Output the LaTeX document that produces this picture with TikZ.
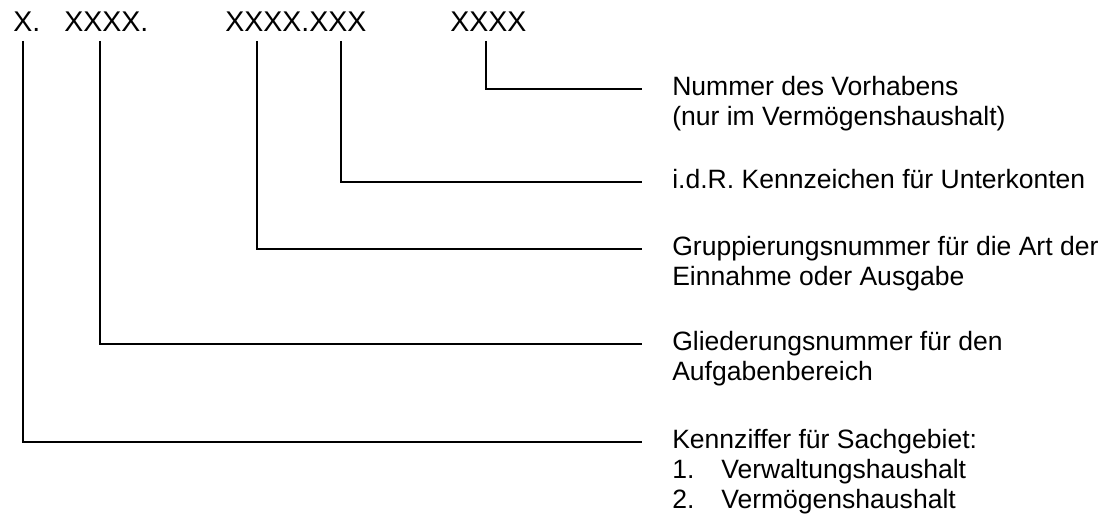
\documentclass[tikz,border=0pt]{standalone}
\usepackage{fontspec}
\setmainfont{Liberation Sans}
\usepackage{tikz}

\tikzset{
    code/.style={anchor=base west,inner sep=0pt,font=\fontsize{21.4}{24}\selectfont},
    lbl/.style={anchor=base west,inner sep=0pt,align=left,font=\fontsize{19.9}{22.5}\selectfont},
    link/.style={draw=black,line width=1.2pt}
}
\newcommand{\punkt}[1]{\makebox[36.75pt][l]{#1}}

\begin{document}
\begin{tikzpicture}[x=0.75pt,y=0.75pt]
    \useasboundingbox (0,0) rectangle (1105,517);
    % Schluessel oben
    \node[code] (sg) at (13,485) {X.};
    \node[code] (gl) at (64,485) {XXXX.};
    \node[code] (gr) at (225,485) {XXXX.XXX};
    \node[code] (vh) at (450,485) {XXXX};
    % Erlaeuterungen rechts (base = letzte Zeile)
    \node[lbl] (vhtxt) at (672,391) {Nummer des Vorhabens\\(nur im Verm\"ogenshaushalt)};
    \node[lbl] (uktxt) at (672,328) {i.d.R. Kennzeichen f\"ur Unterkonten};
    \node[lbl] (grtxt) at (672,231) {Gruppierungsnummer f\"ur die Art der\\Einnahme oder Ausgabe};
    \node[lbl] (gltxt) at (672,136) {Gliederungsnummer f\"ur den\\Aufgabenbereich};
    \node[lbl] (sgtxt) at (672,8) {Kennziffer f\"ur Sachgebiet:\\
        \punkt{1.}Verwaltungshaushalt\\\punkt{2.}Verm\"ogenshaushalt};
    % Ansatzpunkte unter den Stellen
    \coordinate (p1) at (23,476);
    \coordinate (p2) at (100,476);
    \coordinate (p3) at (257,476);
    \coordinate (p4) at (341,476);
    \coordinate (p5) at (486,476);
    \foreach \p/\t/\n in {p1/sgtxt/2,p2/gltxt/1,p3/grtxt/1,p4/uktxt/0,p5/vhtxt/1}
        \draw[link] (\p) |- ([shift={(-30,7+30*\n)}]\t.base west);
\end{tikzpicture}
\end{document}
